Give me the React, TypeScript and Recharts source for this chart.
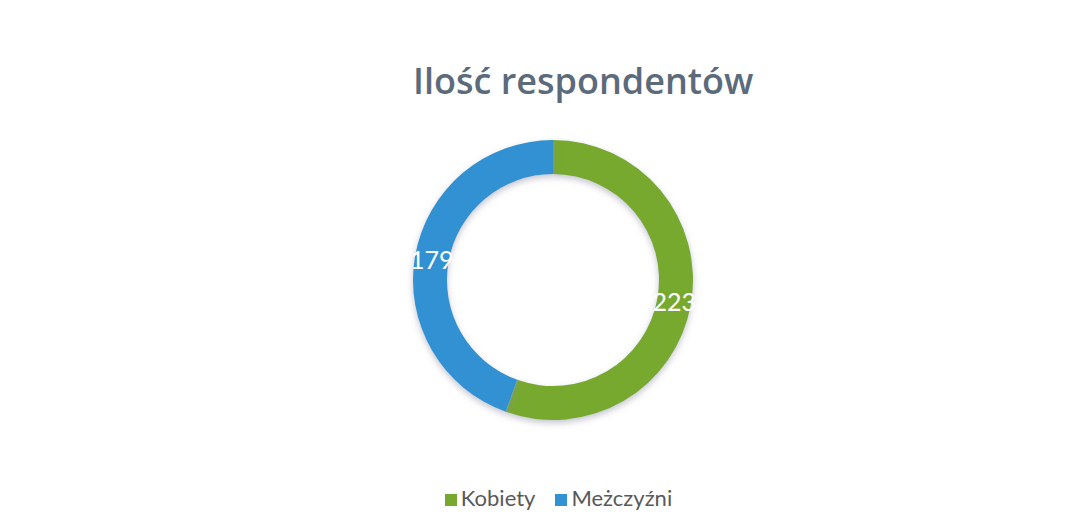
import React from 'react';
import { PieChart, Pie, Cell, Legend } from 'recharts';

const categories = ['Kobiety', 'Meżczyźni'];
const counts = [223, 179];
const colors = ['#77a92f', '#3191d2'];

const data = categories.map((name, i) => ({ name, value: counts[i] }));

const RADIAN = Math.PI / 180;

const renderLabel = (props: any) => {
    const { cx, cy, midAngle, innerRadius, outerRadius, value } = props;
    const r = (innerRadius + outerRadius) / 2;
    const x = cx + r * Math.cos(-midAngle * RADIAN);
    const y = cy + r * Math.sin(-midAngle * RADIAN);
    return (
        <text
            x={x}
            y={y}
            fill="#ffffff"
            textAnchor="middle"
            dominantBaseline="central"
            fontSize={25}
            fontFamily="Lato, 'Open Sans', sans-serif"
        >
            {value}
        </text>
    );
};

const App = () => {
    return (
        <div
            style={{
                position: 'absolute',
                left: 0,
                top: 0,
                width: 1085,
                height: 531,
                background: '#ffffff',
                fontFamily: "Lato, 'Open Sans', sans-serif",
            }}
        >
            <div
                style={{
                    position: 'absolute',
                    left: 413,
                    top: 61,
                    whiteSpace: 'nowrap',
                    fontFamily: "'Open Sans', sans-serif",
                    fontWeight: 600,
                    fontSize: 36,
                    color: '#5b6b7b',
                    lineHeight: '40px',
                }}
            >
                Ilość respondentów
            </div>
            <PieChart width={1085} height={531} margin={{ top: 0, right: 0, bottom: 0, left: 0 }}>
                <defs>
                    <filter id="ringShadow" x="-20%" y="-20%" width="140%" height="140%">
                        <feDropShadow dx="0" dy="3" stdDeviation="3" floodColor="#8a8aa0" floodOpacity="0.5" />
                    </filter>
                </defs>
                <Pie
                    data={data}
                    dataKey="value"
                    nameKey="name"
                    cx={553}
                    cy={280}
                    innerRadius={106}
                    outerRadius={140}
                    startAngle={90}
                    endAngle={-270}
                    stroke="none"
                    label={renderLabel}
                    labelLine={false}
                    isAnimationActive={false}
                    style={{ filter: 'url(#ringShadow)' }}
                >
                    {data.map((d, i) => (
                        <Cell key={d.name} fill={colors[i]} />
                    ))}
                </Pie>
                <Legend
                    verticalAlign="bottom"
                    align="center"
                    iconType="square"
                    iconSize={12}
                    wrapperStyle={{ left: 26, width: 1085, bottom: 20, fontSize: 22, color: '#595959' }}
                    formatter={(value: string) => <span style={{ color: '#595959', marginRight: 10 }}>{value}</span>}
                />
            </PieChart>
        </div>
    );
};

export default App;
